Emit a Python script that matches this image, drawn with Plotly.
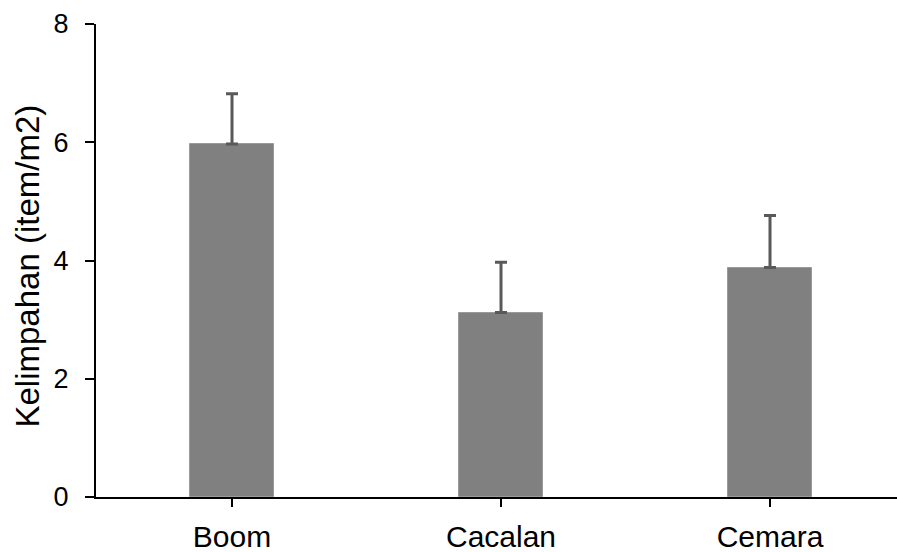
import plotly.graph_objects as go

categories = ["Boom", "Cacalan", "Cemara"]
values = [5.97, 3.12, 3.88]
errors_plus = [0.85, 0.85, 0.88]
y_ticks = [0, 2, 4, 6, 8]
y_title = "Kelimpahan (item/m2)"

fig = go.Figure()
fig.add_trace(go.Bar(
    x=categories,
    y=values,
    width=0.31,
    marker=dict(color="#808080", line=dict(color="#9a9a9a", width=1)),
    error_y=dict(type="data", symmetric=False, array=errors_plus,
                 arrayminus=[None, None, None],
                 color="#595959", thickness=3, width=6),
))

fig.update_layout(
    width=897, height=552,
    margin=dict(l=96, r=0, t=24, b=55, autoexpand=False),
    paper_bgcolor="white", plot_bgcolor="white",
    showlegend=False,
    font=dict(family="Liberation Sans, Arial, sans-serif", color="black"),
    bargap=0,
)
fig.update_xaxes(
    range=[-0.5056, 2.4721], automargin=False,
    showline=True, linecolor="black", linewidth=2,
    ticks="outside", ticklen=8, tickwidth=2, tickcolor="black",
    tickfont=dict(size=30), showgrid=False, zeroline=False,
    ticklabelstandoff=4,
)
fig.update_yaxes(
    range=[0, 8], tickvals=y_ticks, automargin=False,
    showline=True, linecolor="black", linewidth=2,
    ticks="outside", ticklen=9, tickwidth=2, tickcolor="black",
    tickfont=dict(size=27), showgrid=False, zeroline=False,
    ticklabelstandoff=11,
)
fig.add_annotation(
    text=y_title, textangle=-90,
    xref="paper", yref="paper", x=-0.0849, y=0.4894,
    xanchor="center", yanchor="middle", showarrow=False,
    font=dict(size=33, color="black"),
)

fig.write_html(
    "out.html",
    config={"responsive": False, "displayModeBar": False},
    post_script="document.body.style.margin='0';document.body.style.overflow='hidden';",
)
